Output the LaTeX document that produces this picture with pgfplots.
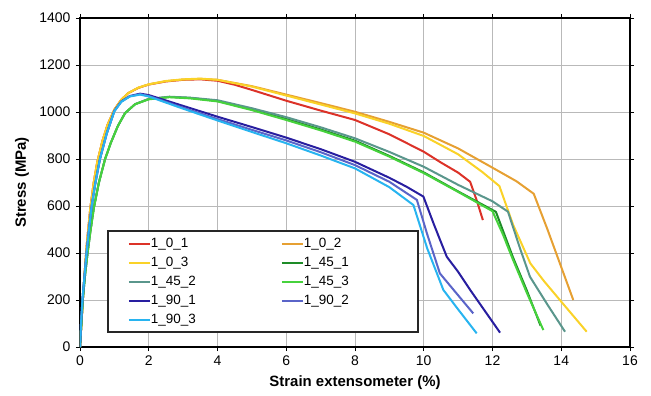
\documentclass[border=0pt]{standalone}
\usepackage{fontspec}
\setmainfont{Liberation Sans}
\usepackage{pgfplots}
\pgfplotsset{compat=1.18}
\definecolor{cA}{RGB}{220,50,40}
\definecolor{cB}{RGB}{230,160,50}
\definecolor{cC}{RGB}{250,210,40}
\definecolor{cD}{RGB}{30,140,40}
\definecolor{cE}{RGB}{90,150,140}
\definecolor{cF}{RGB}{70,210,60}
\definecolor{cG}{RGB}{40,30,160}
\definecolor{cH}{RGB}{90,100,200}
\definecolor{cI}{RGB}{40,180,240}
\begin{document}
\begin{tikzpicture}
\begin{axis}[
  at={(0,0)}, anchor=south west,
  scale only axis, width=550bp, height=329bp,
  xmin=0, xmax=16, ymin=0, ymax=1400,
  xtick={0,2,...,16}, ytick={0,200,...,1400},
  grid=major, grid style={gray!55, line width=0.7bp},
  axis line style={line width=1.6bp, black},
  tick align=outside, major tick length=4bp,
  tick style={black, line width=0.8bp},
  /pgf/number format/assume math mode=true,
  /pgf/number format/1000 sep={},
  ticklabel style={font=\fontsize{14}{16}\selectfont},
  xticklabel style={yshift=-1bp},
  yticklabel style={xshift=-2bp},
  every axis x label/.style={at={(axis description cs:0.5,0)}, anchor=center, yshift=-36bp, font=\fontsize{15}{17}\selectfont\bfseries},
  every axis y label/.style={at={([xshift=-58bp]axis description cs:0,0.5)}, rotate=90, anchor=center, font=\fontsize{15}{17}\selectfont\bfseries},
  xlabel={Strain extensometer (\%)},
  ylabel={Stress (MPa)},
  legend columns=2,
  legend cell align=left,
  legend image code/.code={\draw[#1, line width=2bp] (0bp,0bp) -- (21bp,0bp);},
  legend style={at={(rel axis cs:0.0491,0.0426)}, anchor=south west,
    draw=black!85, line width=1.8bp, inner xsep=20bp, inner ysep=5bp,
    font=\fontsize{13.5}{15}\selectfont,
    nodes={inner xsep=0bp, inner ysep=1bp, text height=10bp, text depth=3bp, text width=94bp},
    row sep=4bp,
    /tikz/every even column/.append style={column sep=36bp}},
  every axis plot/.append style={line width=2bp, line join=round},
]
\addplot[cA] coordinates {(0,0)(0.05,120)(0.1,240)(0.15,345)(0.2,440)(0.3,590)(0.4,700)(0.5,785)(0.65,875)(0.8,945)(1.0,1010)(1.2,1052)(1.4,1080)(1.7,1103)(2.0,1117)(2.5,1130)(3.0,1137)(3.5,1139)(4.0,1133)(4.5,1116)(5.0,1094)(6.0,1048)(7.0,1006)(8.0,966)(9.0,905)(10.0,831)(10.5,785)(11.0,742)(11.35,703)(11.55,620)(11.72,540)};
\addlegendentry{1\_0\_1}
\addplot[cB] coordinates {(0,0)(0.05,120)(0.1,240)(0.15,345)(0.2,440)(0.3,590)(0.4,700)(0.5,785)(0.65,875)(0.8,945)(1.0,1010)(1.2,1052)(1.4,1080)(1.7,1103)(2.0,1117)(2.5,1131)(3.0,1138)(3.5,1141)(4.0,1137)(5.0,1110)(6.0,1074)(7.0,1038)(8.0,1001)(9.0,958)(10.0,912)(11.0,845)(12.0,763)(12.7,705)(13.2,652)(13.6,500)(14.0,340)(14.35,200)};
\addlegendentry{1\_0\_2}
\addplot[cC] coordinates {(0,0)(0.05,120)(0.1,240)(0.15,345)(0.2,440)(0.3,590)(0.4,700)(0.5,785)(0.65,875)(0.8,945)(1.0,1010)(1.2,1052)(1.4,1080)(1.7,1104)(2.0,1118)(2.5,1132)(3.0,1139)(3.5,1142)(4.0,1137)(5.0,1108)(6.0,1070)(7.0,1032)(8.0,994)(9.0,950)(10.0,898)(11.0,820)(11.7,745)(12.2,685)(12.6,520)(13.1,356)(13.5,280)(14.0,193)(14.74,65)};
\addlegendentry{1\_0\_3}
\addplot[cD] coordinates {(0,0)(0.04,100)(0.08,200)(0.15,310)(0.22,400)(0.3,490)(0.4,590)(0.55,700)(0.73,800)(0.9,870)(1.1,940)(1.31,995)(1.6,1033)(2.0,1055)(2.6,1064)(3.2,1060)(4.0,1047)(5.0,1011)(6.0,970)(7.0,926)(8.0,878)(9.0,813)(10.0,743)(11.0,662)(12.1,575)(12.6,380)(13.0,240)(13.4,90)};
\addlegendentry{1\_45\_1}
\addplot[cE] coordinates {(0,0)(0.04,100)(0.08,200)(0.15,310)(0.22,400)(0.3,490)(0.4,590)(0.55,700)(0.73,800)(0.9,870)(1.1,940)(1.31,995)(1.6,1033)(2.0,1056)(2.6,1065)(3.2,1061)(4.0,1050)(5.0,1016)(6.0,978)(7.0,935)(8.0,888)(9.0,830)(10.0,767)(11.0,690)(12.0,620)(12.45,576)(12.8,420)(13.09,299)(13.6,180)(14.11,65)};
\addlegendentry{1\_45\_2}
\addplot[cF] coordinates {(0,0)(0.04,100)(0.08,200)(0.15,310)(0.22,400)(0.3,490)(0.4,590)(0.55,700)(0.73,800)(0.9,870)(1.1,940)(1.31,995)(1.6,1033)(2.0,1054)(2.6,1063)(3.2,1058)(4.0,1045)(5.0,1008)(6.0,966)(7.0,922)(8.0,874)(9.0,810)(10.0,740)(11.0,660)(12.0,578)(12.3,480)(12.6,370)(13.0,230)(13.48,72)};
\addlegendentry{1\_45\_3}
\addplot[cG] coordinates {(0,0)(0.03,100)(0.07,200)(0.13,300)(0.19,400)(0.26,500)(0.34,600)(0.45,700)(0.58,800)(0.78,910)(1.0,1005)(1.2,1045)(1.45,1068)(1.75,1078)(2.0,1072)(3.0,1026)(4.0,980)(5.0,936)(6.0,891)(7.0,842)(8.0,788)(9.0,720)(9.5,682)(9.99,640)(10.3,520)(10.67,384)(11.0,320)(11.35,243)(12.22,61)};
\addlegendentry{1\_90\_1}
\addplot[cH] coordinates {(0,0)(0.03,100)(0.07,200)(0.13,300)(0.19,400)(0.26,500)(0.34,600)(0.45,700)(0.58,800)(0.78,910)(1.0,1004)(1.2,1044)(1.45,1067)(1.75,1076)(2.0,1068)(3.0,1018)(4.0,970)(5.0,924)(6.0,879)(7.0,829)(8.0,774)(9.0,703)(9.8,626)(10.1,480)(10.47,313)(11.0,220)(11.44,143)};
\addlegendentry{1\_90\_2}
\addplot[cI] coordinates {(0,0)(0.03,100)(0.07,200)(0.13,300)(0.19,400)(0.26,500)(0.34,600)(0.45,700)(0.58,800)(0.78,910)(1.0,1003)(1.2,1043)(1.45,1066)(1.75,1074)(2.0,1066)(3.0,1014)(4.0,964)(5.0,915)(6.0,867)(7.0,815)(8.0,760)(9.0,680)(9.7,604)(10.1,420)(10.57,243)(11.0,160)(11.54,58)};
\addlegendentry{1\_90\_3}
\end{axis}
\pgfresetboundingbox
\path[use as bounding box] (-80bp,-49bp) rectangle (571bp,347bp);
\end{tikzpicture}
\end{document}
